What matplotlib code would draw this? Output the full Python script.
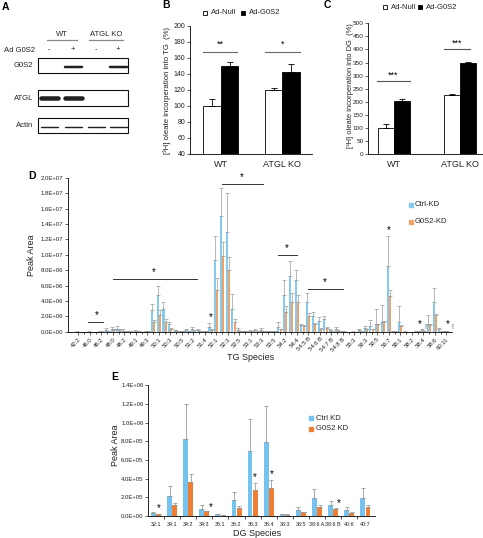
import matplotlib
matplotlib.use('Agg')
import matplotlib.pyplot as plt
import numpy as np
from matplotlib.patches import Rectangle

W, H = 483, 538
plt.rcParams['font.family'] = ['Liberation Sans', 'DejaVu Sans']
plt.rcParams['axes.linewidth'] = 0.6

# ---------------- data ----------------
# Panel A (western blot): lanes and relative band intensity
blot_groups = ['WT', 'ATGL KO']
blot_lanes = ['-', '+', '-', '+']
blot_rows = ['G0S2', 'ATGL', 'Actin']
g0s2_band = [0.0, 1.0, 0.0, 1.0]
atgl_band = [1.0, 1.0, 0.0, 0.0]
actin_band = [1.0, 1.0, 1.0, 1.0]

# Panels B / C
genotypes = ['WT', 'ATGL KO']
tginc_null = [100, 120]
tginc_null_err = [9, 3]
tginc_g0s2 = [150, 143]
tginc_g0s2_err = [5, 9]
dginc_null = [101, 225]
dginc_null_err = [12, 6]
dginc_g0s2 = [204, 350]
dginc_g0s2_err = [8, 3]

# Panel D: TG species (labels shown on every other category)
tg_species = ['42:2', '46:0', '46:2', '48:0', '48:2', '49:1', '49:3', '50:1', '50:3', '50:5',
              '51:2', '51:4', '52:1', '52:3', '52:5', '53:1', '53:3', '53:5', '54:2', '54:4',
              '54:5 B', '54:6 B', '54:7 B', '54:8 B', '55:3', '56:3', '56:5', '56:7', '58:1',
              '58:2', '58:4', '58:6', '60:11']
tg_ctrl = [0.02, 0, 0.02, 0, 0.05, 0.25, 0.3, 0.35, 0.15, 0.05,
           0.1, 0.02, 0.1, 2.8, 4.8, 3.0, 1.0, 0.2, 0.05, 0.2,
           0.3, 0.2, 0.1, 0.55, 9.3, 15.0, 13.0, 3.0, 0.2, 0.05,
           0.1, 0.2, 0.2, 0.1, 0.05, 0.6, 4.8, 7.2, 6.7, 0.9,
           3.9, 2.0, 1.4, 1.6, 0.2, 0.3, 0.05, 0, 0.02, 0.2,
           0.5, 0.8, 1.0, 1.3, 8.5, 0.05, 1.3, 0.02, 0, 0.05,
           0.2, 1.0, 3.8, 0.3, 0.05]
tg_ctrl_err = [0.01, 0, 0.01, 0, 0.03, 0.2, 0.25, 0.35, 0.15, 0.03,
               0.1, 0.01, 0.05, 0.8, 1.1, 0.9, 0.3, 0.05, 0.02, 0.2,
               0.25, 0.1, 0.05, 0.55, 3.1, 3.7, 5.0, 1.9, 0.3, 0.02,
               0.1, 0.2, 0.25, 0.05, 0.02, 0.6, 1.9, 2.0, 1.3, 0.1,
               1.1, 0.6, 0.5, 0.5, 0.1, 0.3, 0.02, 0, 0.01, 0.1,
               0.3, 0.7, 1.9, 2.2, 4.0, 0.02, 2.1, 0.01, 0, 0.02,
               0.1, 1.2, 1.9, 0.2, 0.02]
tg_kd = [0.01, 0, 0.01, 0, 0.02, 0.1, 0.2, 0.2, 0.05, 0.02,
         0.05, 0.01, 0.05, 1.2, 2.2, 1.3, 0.4, 0.1, 0.02, 0.1,
         0.15, 0.1, 0.05, 0.25, 5.4, 9.8, 8.0, 1.3, 0.1, 0.02,
         0.05, 0.1, 0.1, 0.05, 0.03, 0.3, 2.6, 3.9, 3.9, 0.8,
         2.0, 1.0, 0.4, 0.5, 0.1, 0.15, 0.02, 0, 0.01, 0.1,
         0.3, 0.3, 1.0, 1.3, 4.6, 0.02, 0.8, 0.01, 0, 0.02,
         0.1, 0.9, 2.2, 0.1, 0.02]
tg_kd_err = [0.01, 0, 0, 0, 0.01, 0.05, 0.1, 0.15, 0.05, 0.01,
             0.02, 0, 0.02, 0.3, 0.6, 0.3, 0.05, 0.02, 0.01, 0.05,
             0.1, 0.05, 0.02, 0.15, 1.6, 1.9, 1.7, 0.4, 0.05, 0.01,
             0.02, 0.05, 0.05, 0.02, 0.01, 0.1, 0.8, 1.1, 0.9, 0.1,
             0.4, 0.1, 0.1, 0.1, 0.02, 0.05, 0.01, 0, 0, 0.05,
             0.1, 0.1, 0.05, 0.1, 0.8, 0.01, 0.05, 0, 0, 0.01,
             0.05, 0.05, 0.1, 0.05, 0.01]

# Panel E: DG species
dg_species = ['32:1', '34:1', '34:2', '34:3', '36:1', '36:2', '36:3', '36:4', '38:3',
              '38:5', '38:6 A', '38:6 B', '40:6', '40:7']
dg_ctrl = [0.03, 0.214, 0.825, 0.079, 0.021, 0.175, 0.70, 0.789, 0.018, 0.064, 0.193, 0.121, 0.064, 0.189]
dg_ctrl_err = [0.012, 0.11, 0.38, 0.035, 0.004, 0.08, 0.336, 0.39, 0.004, 0.029, 0.093, 0.04, 0.029, 0.115]
dg_kd = [0.02, 0.114, 0.364, 0.05, 0.01, 0.086, 0.279, 0.304, 0.014, 0.04, 0.096, 0.075, 0.032, 0.096]
dg_kd_err = [0.003, 0.029, 0.086, 0.007, 0.002, 0.018, 0.071, 0.078, 0.003, 0.004, 0.022, 0.011, 0.007, 0.022]

BLUE_D, ORANGE_D = '#86CBEF', '#EEA36B'
BLUE_E, ORANGE_E = '#74C3EE', '#EE7E33'
ERR = '#9A9A9A'
TXT = '#222222'


def px(l, t, r, b):
    return [l / W, 1 - b / H, (r - l) / W, (b - t) / H]


fig = plt.figure(figsize=(W / 100, H / 100), dpi=100)
ov = fig.add_axes([0, 0, 1, 1])
ov.set_xlim(0, W)
ov.set_ylim(H, 0)
ov.axis('off')
ov.set_zorder(5)

# ---------------- Panel A ----------------
ov.text(5, 7, 'A', fontsize=7.5, fontweight='bold', ha='center', va='center')
lane_x = [49, 73, 96, 118]
ov.text(62, 35, blot_groups[0], fontsize=5.5, ha='center', va='center', color=TXT)
ov.text(106, 35, blot_groups[1], fontsize=5.5, ha='center', va='center', color=TXT)
ov.plot([47, 77], [40, 40], color='#888888', lw=0.9)
ov.plot([89, 123], [40, 40], color='#888888', lw=0.9)
ov.text(35, 50, 'Ad G0S2', fontsize=5.5, ha='right', va='center', color=TXT)
for x, s in zip(lane_x, blot_lanes):
    ov.text(x, 49.5, s, fontsize=5.5, ha='center', va='center', color=TXT)
row_boxes = [(58, 73), (90, 106), (118, 133)]
row_bands = [g0s2_band, atgl_band, actin_band]
row_thick = [2.5, 4.5, 1.4]
row_offsets = [(66.5), (98), (126.5)]
for name, (t, b), bands, th, yc in zip(blot_rows, row_boxes, row_bands, row_thick, row_offsets):
    ov.add_patch(Rectangle((38, t), 90, b - t, fill=False, ec='#111111', lw=0.8))
    ov.text(33, (t + b) / 2, name, fontsize=5.5, ha='right', va='center', color=TXT)
    for x, v in zip(lane_x, bands):
        if v > 0:
            ov.plot([x - 8.5, x + 8.5], [yc, yc], color='#151515', lw=th * 0.72 * v,
                    solid_capstyle='round', alpha=0.95)

# ---------------- Panel B ----------------
axB = fig.add_axes(px(190, 26, 312, 154))
xg = np.arange(len(genotypes))
wB = 0.284
ekB = dict(ecolor='black', elinewidth=0.6, capsize=2.2, capthick=0.6)
axB.bar(xg - wB / 2, tginc_null, wB, color='white', edgecolor='black', lw=0.6,
        yerr=[np.zeros(2), tginc_null_err], error_kw=ekB)
axB.bar(xg + wB / 2, tginc_g0s2, wB, color='black', edgecolor='black', lw=0.6,
        yerr=[np.zeros(2), tginc_g0s2_err], error_kw=ekB)
axB.set_xlim(-0.5, 1.48)
axB.set_ylim(40, 200)
axB.set_yticks(np.arange(40, 201, 20))
axB.set_xticks(xg, genotypes)
axB.tick_params(axis='y', labelsize=5, length=2, width=0.5, pad=1.5, colors=TXT)
axB.tick_params(axis='x', labelsize=6.5, length=0, pad=4, colors=TXT)
for s in ['top', 'right']:
    axB.spines[s].set_visible(False)
axB.plot([-0.29, 0.26], [168, 168], color='#666666', lw=0.8, clip_on=False)
axB.text(-0.015, 172, '**', fontsize=6.5, ha='center', va='bottom')
axB.plot([0.72, 1.29], [168, 168], color='#666666', lw=0.8, clip_on=False)
axB.text(1.0, 172, '*', fontsize=6.5, ha='center', va='bottom')
ov.text(166, 5, 'B', fontsize=7.5, fontweight='bold', ha='center', va='center')
ov.text(167, 90, '[³H] oleate incorperation into TG  (%)', fontsize=5.6, rotation=90,
        ha='center', va='center', color=TXT)
ov.add_patch(Rectangle((203, 11), 4, 4, fc='white', ec='black', lw=0.6))
ov.text(210.5, 13, 'Ad-Null', fontsize=5.5, ha='left', va='center', color=TXT)
ov.add_patch(Rectangle((241, 11), 4, 4, fc='black', ec='black', lw=0.6))
ov.text(248.5, 13, 'Ad-G0S2', fontsize=5.5, ha='left', va='center', color=TXT)

# ---------------- Panel C ----------------
axC = fig.add_axes(px(368.3, 23.3, 483, 154))
wC = 0.24
axC.bar(xg - wC / 2, dginc_null, wC, color='white', edgecolor='black', lw=0.6,
        yerr=[np.zeros(2), dginc_null_err], error_kw=ekB)
axC.bar(xg + wC / 2, dginc_g0s2, wC, color='black', edgecolor='black', lw=0.6,
        yerr=[np.zeros(2), dginc_g0s2_err], error_kw=ekB)
axC.set_xlim(-0.39, 1.35)
axC.set_ylim(0, 500)
axC.set_yticks(np.arange(0, 501, 50))
axC.set_xticks(xg, genotypes)
axC.tick_params(axis='y', labelsize=4.6, length=2, width=0.5, pad=1.2, colors=TXT)
axC.tick_params(axis='x', labelsize=6.5, length=0, pad=4, colors=TXT)
for s in ['top', 'right']:
    axC.spines[s].set_visible(False)
axC.plot([-0.26, 0.24], [279, 279], color='#555555', lw=0.8, clip_on=False)
axC.text(-0.01, 284, '***', fontsize=6.5, ha='center', va='bottom')
axC.plot([0.76, 1.15], [402, 402], color='#555555', lw=0.8, clip_on=False)
axC.text(0.95, 407, '***', fontsize=6.5, ha='center', va='bottom')
ov.text(327, 5, 'C', fontsize=7.5, fontweight='bold', ha='center', va='center')
ov.text(350.5, 86, '[³H] oleate incorperation into DG  (%)', fontsize=5.4, rotation=90,
        ha='center', va='center', color=TXT)
ov.add_patch(Rectangle((383, 5.3), 4, 4, fc='white', ec='black', lw=0.6))
ov.text(390.5, 7.3, 'Ad-Null', fontsize=5.5, ha='left', va='center', color=TXT)
ov.add_patch(Rectangle((418, 5.3), 4, 4, fc='black', ec='black', lw=0.6))
ov.text(425.5, 7.3, 'Ad-G0S2', fontsize=5.5, ha='left', va='center', color=TXT)

# ---------------- Panel D ----------------
axD = fig.add_axes(px(68, 178, 452, 331.7))
n = len(tg_ctrl)
xi = np.arange(n)
sc = 1e6
wD = 0.36
ekD = dict(ecolor=ERR, elinewidth=0.5, capsize=1.2, capthick=0.5)
axD.bar(xi - 0.19, np.array(tg_ctrl) * sc, wD, color=BLUE_D, lw=0,
        yerr=[np.zeros(n), np.array(tg_ctrl_err) * sc], error_kw=ekD, label='Ctrl-KD')
axD.bar(xi + 0.19, np.array(tg_kd) * sc, wD, color=ORANGE_D, lw=0,
        yerr=[np.zeros(n), np.array(tg_kd_err) * sc], error_kw=ekD, label='G0S2-KD')
axD.set_xlim(-1.8, 65.0)
axD.set_ylim(0, 2e7)
yt = np.arange(0, 2.01e7, 2e6)
axD.set_yticks(yt, [f'{v:.1E}' for v in yt])
axD.set_xticks(np.arange(0, n, 2))
axD.set_xticklabels(tg_species, rotation=45, ha='right', rotation_mode='anchor')
axD.set_xticks(xi, minor=True)
axD.tick_params(axis='y', labelsize=4.3, length=2, width=0.5, pad=1.5, colors=TXT)
axD.tick_params(axis='x', which='major', labelsize=4.3, length=2, width=0.5, pad=1.5, colors=TXT)
axD.tick_params(axis='x', which='minor', length=1.5, width=0.5)
for s in ['top', 'right']:
    axD.spines[s].set_visible(False)
sig_D = [(1.6, 4.3, 1.2e6, 3.2), (6.1, 20.6, 6.8e6, 13.2), (25.0, 32.2, 19.2e6, 28.5),
         (34.8, 38.1, 10.0e6, 36.3), (40.0, 46.0, 5.6e6, 42.9)]
for x0, x1, yy, xs in sig_D:
    axD.plot([x0, x1], [yy, yy], color='#333333', lw=0.7, clip_on=False)
    axD.text(xs, yy + 0.25e6, '*', fontsize=7, ha='center', va='bottom', clip_on=False)
for xs, yy in [(54, 12.6e6), (23, 1.3e6), (59.4, 0.35e6), (64.3, 0.35e6)]:
    axD.text(xs, yy, '*', fontsize=7, ha='center', va='bottom', clip_on=False)
for xs in [60.3, 65.1]:
    axD.text(xs, 0.1e6, '!', fontsize=5, ha='center', va='bottom', clip_on=False, color='#444444')
ov.text(32, 176, 'D', fontsize=7.5, fontweight='bold', ha='center', va='center')
ov.text(31.5, 255, 'Peak Area', fontsize=6.5, rotation=90, ha='center', va='center', color=TXT)
ov.text(251, 357, 'TG Species', fontsize=6.5, ha='center', va='center', color=TXT)
ov.plot([410.7], [205], marker='s', ms=2.6, color=BLUE_D, ls='none')
ov.text(415, 205, 'Ctrl-KD', fontsize=5.5, ha='left', va='center', color=TXT)
ov.plot([410.7], [221.7], marker='s', ms=2.6, color=ORANGE_D, ls='none')
ov.text(415, 221.7, 'G0S2-KD', fontsize=5.5, ha='left', va='center', color=TXT)

# ---------------- Panel E ----------------
axE = fig.add_axes(px(148.3, 385.3, 375, 516))
m = len(dg_species)
xe = np.arange(m)
wE = 0.3
ekE = dict(ecolor=ERR, elinewidth=0.6, capsize=1.6, capthick=0.6)
axE.bar(xe - 0.16, np.array(dg_ctrl) * sc, wE, color=BLUE_E, lw=0,
        yerr=[np.zeros(m), np.array(dg_ctrl_err) * sc], error_kw=ekE)
axE.bar(xe + 0.16, np.array(dg_kd) * sc, wE, color=ORANGE_E, lw=0,
        yerr=[np.zeros(m), np.array(dg_kd_err) * sc], error_kw=ekE)
axE.set_xlim(-0.48, 13.6)
axE.set_ylim(0, 1.4e6)
ye = np.arange(0, 1.41e6, 2e5)
axE.set_yticks(ye, [f'{v:.1E}' for v in ye])
axE.set_xticks(xe, dg_species)
axE.set_xticks(xe[:-1] + 0.5, minor=True)
axE.tick_params(axis='y', labelsize=4.3, length=2, width=0.5, pad=1.5, colors=TXT)
axE.tick_params(axis='x', which='major', labelsize=3.9, length=0, pad=4, colors=TXT)
axE.tick_params(axis='x', which='minor', length=2, width=0.5)
for s in ['top', 'right']:
    axE.spines[s].set_visible(False)
stars_E = [(0.16, 0.035e6), (3.4, 0.045e6), (6.16, 0.36e6), (7.16, 0.395e6), (11.35, 0.08e6)]
for xs, yy in stars_E:
    axE.text(xs, yy, '*', fontsize=7, ha='center', va='bottom')
ov.text(115, 377, 'E', fontsize=7.5, fontweight='bold', ha='center', va='center')
ov.text(115, 445, 'Peak Area', fontsize=6.5, rotation=90, ha='center', va='center', color=TXT)
ov.text(257, 533, 'DG Species', fontsize=6.5, ha='center', va='center', color=TXT)
ov.plot([310.7], [418], marker='s', ms=2.6, color=BLUE_E, ls='none')
ov.text(315.5, 418, 'Ctrl KD', fontsize=5.5, ha='left', va='center', color=TXT)
ov.plot([310.7], [429], marker='s', ms=2.6, color=ORANGE_E, ls='none')
ov.text(315.5, 429, 'G0S2 KD', fontsize=5.5, ha='left', va='center', color=TXT)

fig.savefig('out.png', dpi=100)
